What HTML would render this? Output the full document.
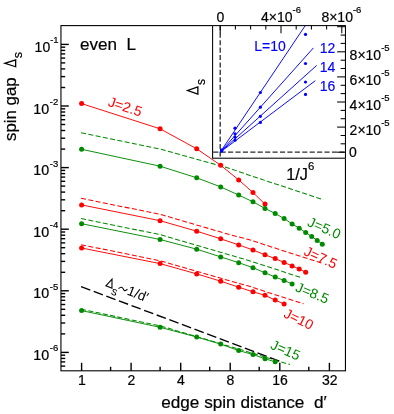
<!DOCTYPE html><html><head><meta charset="utf-8"><style>html,body{margin:0;padding:0;background:#fff}body{width:394px;height:414px;position:relative;overflow:hidden}</style></head><body><svg width="394" height="414" viewBox="0 0 394 414" style="will-change:transform;position:absolute;left:0;top:0;font-family:'Liberation Sans',sans-serif">
<rect width="394" height="414" fill="#fff"/>
<polyline fill="none" stroke="#008a00" stroke-width="1.05" stroke-dasharray="5.0,2.4" points="81.1,132.8 160.0,149.0 230.0,168.5 247.7,174.7 323.4,199.8"/>
<polyline fill="none" stroke="#ff0000" stroke-width="1.05" stroke-dasharray="5.0,2.4" points="81.1,198.3 160.0,214.3 230.0,234.7 247.7,239.3 321.7,263.0"/>
<polyline fill="none" stroke="#008a00" stroke-width="1.05" stroke-dasharray="5.0,2.4" points="81.1,218.6 160.0,234.6 230.0,255.0 247.7,260.2 302.3,277.9"/>
<polyline fill="none" stroke="#ff0000" stroke-width="1.05" stroke-dasharray="5.0,2.4" points="81.1,244.7 160.0,260.7 230.0,280.9 247.7,285.8 303.6,303.8"/>
<polyline fill="none" stroke="#008a00" stroke-width="1.05" stroke-dasharray="5.0,2.4" points="81.1,309.3 160.0,325.8 238.9,349.1 290.0,364.6"/>
<line x1="81.1" y1="286.6" x2="281" y2="361.7" stroke="#000" stroke-width="1.35" stroke-dasharray="9.8,3.66"/>
<polyline fill="none" stroke="#ff0000" stroke-width="0.95" points="81.6,103.6 160.1,128.8 196.7,148.8 220.7,165.3 238.7,179.9 253.0,192.6 265.0,204.1"/>
<circle cx="81.6" cy="103.6" r="2.5" fill="#ff0000"/>
<circle cx="160.1" cy="128.8" r="2.5" fill="#ff0000"/>
<circle cx="196.7" cy="148.8" r="2.5" fill="#ff0000"/>
<circle cx="220.7" cy="165.3" r="2.5" fill="#ff0000"/>
<circle cx="238.7" cy="179.9" r="2.5" fill="#ff0000"/>
<circle cx="253.0" cy="192.6" r="2.5" fill="#ff0000"/>
<circle cx="265.0" cy="204.1" r="2.5" fill="#ff0000"/>
<polyline fill="none" stroke="#008a00" stroke-width="0.95" points="81.6,149.3 160.1,166.2 196.7,177.8 220.7,186.9 238.7,195.1 253.0,201.8 265.0,208.4 275.2,213.5 284.1,218.5 292.1,223.9 299.2,228.2 305.7,232.5 311.7,236.5 317.2,240.4 322.3,244.2"/>
<circle cx="81.6" cy="149.3" r="2.5" fill="#008a00"/>
<circle cx="160.1" cy="166.2" r="2.5" fill="#008a00"/>
<circle cx="196.7" cy="177.8" r="2.5" fill="#008a00"/>
<circle cx="220.7" cy="186.9" r="2.5" fill="#008a00"/>
<circle cx="238.7" cy="195.1" r="2.5" fill="#008a00"/>
<circle cx="253.0" cy="201.8" r="2.5" fill="#008a00"/>
<circle cx="265.0" cy="208.4" r="2.5" fill="#008a00"/>
<circle cx="275.2" cy="213.5" r="2.5" fill="#008a00"/>
<circle cx="284.1" cy="218.5" r="2.5" fill="#008a00"/>
<circle cx="292.1" cy="223.9" r="2.5" fill="#008a00"/>
<circle cx="299.2" cy="228.2" r="2.5" fill="#008a00"/>
<circle cx="305.7" cy="232.5" r="2.5" fill="#008a00"/>
<circle cx="311.7" cy="236.5" r="2.5" fill="#008a00"/>
<circle cx="317.2" cy="240.4" r="2.5" fill="#008a00"/>
<circle cx="322.3" cy="244.2" r="2.5" fill="#008a00"/>
<polyline fill="none" stroke="#ff0000" stroke-width="0.95" points="81.6,204.9 160.1,220.7 196.7,231.2 220.7,238.8 238.7,244.9 253.0,250.0 265.0,254.8 275.2,258.6 284.1,262.4 292.1,265.9 299.2,269.0 305.7,272.3"/>
<circle cx="81.6" cy="204.9" r="2.5" fill="#ff0000"/>
<circle cx="160.1" cy="220.7" r="2.5" fill="#ff0000"/>
<circle cx="196.7" cy="231.2" r="2.5" fill="#ff0000"/>
<circle cx="220.7" cy="238.8" r="2.5" fill="#ff0000"/>
<circle cx="238.7" cy="244.9" r="2.5" fill="#ff0000"/>
<circle cx="253.0" cy="250.0" r="2.5" fill="#ff0000"/>
<circle cx="265.0" cy="254.8" r="2.5" fill="#ff0000"/>
<circle cx="275.2" cy="258.6" r="2.5" fill="#ff0000"/>
<circle cx="284.1" cy="262.4" r="2.5" fill="#ff0000"/>
<circle cx="292.1" cy="265.9" r="2.5" fill="#ff0000"/>
<circle cx="299.2" cy="269.0" r="2.5" fill="#ff0000"/>
<circle cx="305.7" cy="272.3" r="2.5" fill="#ff0000"/>
<polyline fill="none" stroke="#008a00" stroke-width="0.95" points="81.6,223.7 160.1,239.5 196.7,249.2 220.7,256.9 238.7,262.7 253.0,267.7 265.0,272.8 275.2,277.1 284.1,280.4 292.1,284.0"/>
<circle cx="81.6" cy="223.7" r="2.5" fill="#008a00"/>
<circle cx="160.1" cy="239.5" r="2.5" fill="#008a00"/>
<circle cx="196.7" cy="249.2" r="2.5" fill="#008a00"/>
<circle cx="220.7" cy="256.9" r="2.5" fill="#008a00"/>
<circle cx="238.7" cy="262.7" r="2.5" fill="#008a00"/>
<circle cx="253.0" cy="267.7" r="2.5" fill="#008a00"/>
<circle cx="265.0" cy="272.8" r="2.5" fill="#008a00"/>
<circle cx="275.2" cy="277.1" r="2.5" fill="#008a00"/>
<circle cx="284.1" cy="280.4" r="2.5" fill="#008a00"/>
<circle cx="292.1" cy="284.0" r="2.5" fill="#008a00"/>
<polyline fill="none" stroke="#ff0000" stroke-width="0.95" points="81.6,248.0 160.1,263.6 196.7,273.9 220.7,281.2 238.7,287.2 253.0,291.8 265.0,295.3 275.2,300.1 284.1,304.0"/>
<circle cx="81.6" cy="248.0" r="2.5" fill="#ff0000"/>
<circle cx="160.1" cy="263.6" r="2.5" fill="#ff0000"/>
<circle cx="196.7" cy="273.9" r="2.5" fill="#ff0000"/>
<circle cx="220.7" cy="281.2" r="2.5" fill="#ff0000"/>
<circle cx="238.7" cy="287.2" r="2.5" fill="#ff0000"/>
<circle cx="253.0" cy="291.8" r="2.5" fill="#ff0000"/>
<circle cx="265.0" cy="295.3" r="2.5" fill="#ff0000"/>
<circle cx="275.2" cy="300.1" r="2.5" fill="#ff0000"/>
<circle cx="284.1" cy="304.0" r="2.5" fill="#ff0000"/>
<polyline fill="none" stroke="#008a00" stroke-width="0.95" points="81.6,310.6 160.1,327.3 196.7,337.0 220.7,344.1 238.7,350.6 253.0,354.5 265.0,358.8 275.2,361.8"/>
<circle cx="81.6" cy="310.6" r="2.5" fill="#008a00"/>
<circle cx="160.1" cy="327.3" r="2.5" fill="#008a00"/>
<circle cx="196.7" cy="337.0" r="2.5" fill="#008a00"/>
<circle cx="220.7" cy="344.1" r="2.5" fill="#008a00"/>
<circle cx="238.7" cy="350.6" r="2.5" fill="#008a00"/>
<circle cx="253.0" cy="354.5" r="2.5" fill="#008a00"/>
<circle cx="265.0" cy="358.8" r="2.5" fill="#008a00"/>
<circle cx="275.2" cy="361.8" r="2.5" fill="#008a00"/>
<g stroke="#000" stroke-width="1.40" fill="none">
<rect x="60.95" y="25.60" width="284.50" height="345.20" stroke-width="1.1"/>
<line x1="61.0" y1="44.4" x2="68.8" y2="44.4"/>
<line x1="61.0" y1="106.0" x2="68.8" y2="106.0"/>
<line x1="61.0" y1="167.6" x2="68.8" y2="167.6"/>
<line x1="61.0" y1="229.2" x2="68.8" y2="229.2"/>
<line x1="61.0" y1="290.8" x2="68.8" y2="290.8"/>
<line x1="61.0" y1="352.4" x2="68.8" y2="352.4"/>
<line x1="61.0" y1="87.5" x2="65.2" y2="87.5"/>
<line x1="61.0" y1="76.6" x2="65.2" y2="76.6"/>
<line x1="61.0" y1="68.9" x2="65.2" y2="68.9"/>
<line x1="61.0" y1="62.9" x2="65.2" y2="62.9"/>
<line x1="61.0" y1="58.1" x2="65.2" y2="58.1"/>
<line x1="61.0" y1="53.9" x2="65.2" y2="53.9"/>
<line x1="61.0" y1="50.4" x2="65.2" y2="50.4"/>
<line x1="61.0" y1="47.2" x2="65.2" y2="47.2"/>
<line x1="61.0" y1="149.1" x2="65.2" y2="149.1"/>
<line x1="61.0" y1="138.2" x2="65.2" y2="138.2"/>
<line x1="61.0" y1="130.5" x2="65.2" y2="130.5"/>
<line x1="61.0" y1="124.5" x2="65.2" y2="124.5"/>
<line x1="61.0" y1="119.7" x2="65.2" y2="119.7"/>
<line x1="61.0" y1="115.5" x2="65.2" y2="115.5"/>
<line x1="61.0" y1="112.0" x2="65.2" y2="112.0"/>
<line x1="61.0" y1="108.8" x2="65.2" y2="108.8"/>
<line x1="61.0" y1="210.7" x2="65.2" y2="210.7"/>
<line x1="61.0" y1="199.8" x2="65.2" y2="199.8"/>
<line x1="61.0" y1="192.1" x2="65.2" y2="192.1"/>
<line x1="61.0" y1="186.1" x2="65.2" y2="186.1"/>
<line x1="61.0" y1="181.3" x2="65.2" y2="181.3"/>
<line x1="61.0" y1="177.1" x2="65.2" y2="177.1"/>
<line x1="61.0" y1="173.6" x2="65.2" y2="173.6"/>
<line x1="61.0" y1="170.4" x2="65.2" y2="170.4"/>
<line x1="61.0" y1="272.3" x2="65.2" y2="272.3"/>
<line x1="61.0" y1="261.4" x2="65.2" y2="261.4"/>
<line x1="61.0" y1="253.7" x2="65.2" y2="253.7"/>
<line x1="61.0" y1="247.7" x2="65.2" y2="247.7"/>
<line x1="61.0" y1="242.9" x2="65.2" y2="242.9"/>
<line x1="61.0" y1="238.7" x2="65.2" y2="238.7"/>
<line x1="61.0" y1="235.2" x2="65.2" y2="235.2"/>
<line x1="61.0" y1="232.0" x2="65.2" y2="232.0"/>
<line x1="61.0" y1="333.9" x2="65.2" y2="333.9"/>
<line x1="61.0" y1="323.0" x2="65.2" y2="323.0"/>
<line x1="61.0" y1="315.3" x2="65.2" y2="315.3"/>
<line x1="61.0" y1="309.3" x2="65.2" y2="309.3"/>
<line x1="61.0" y1="304.5" x2="65.2" y2="304.5"/>
<line x1="61.0" y1="300.3" x2="65.2" y2="300.3"/>
<line x1="61.0" y1="296.8" x2="65.2" y2="296.8"/>
<line x1="61.0" y1="293.6" x2="65.2" y2="293.6"/>
<line x1="61.0" y1="366.1" x2="65.2" y2="366.1"/>
<line x1="61.0" y1="361.9" x2="65.2" y2="361.9"/>
<line x1="61.0" y1="358.4" x2="65.2" y2="358.4"/>
<line x1="61.0" y1="355.2" x2="65.2" y2="355.2"/>
<line x1="81.6" y1="370.8" x2="81.6" y2="362.8"/>
<line x1="131.1" y1="370.8" x2="131.1" y2="362.8"/>
<line x1="180.7" y1="370.8" x2="180.7" y2="362.8"/>
<line x1="230.2" y1="370.8" x2="230.2" y2="362.8"/>
<line x1="279.8" y1="370.8" x2="279.8" y2="362.8"/>
<line x1="329.4" y1="370.8" x2="329.4" y2="362.8"/>
<line x1="110.6" y1="370.8" x2="110.6" y2="366.8"/>
<line x1="160.1" y1="370.8" x2="160.1" y2="366.8"/>
<line x1="209.7" y1="370.8" x2="209.7" y2="366.8"/>
<line x1="259.2" y1="370.8" x2="259.2" y2="366.8"/>
<line x1="308.8" y1="370.8" x2="308.8" y2="366.8"/>
</g>
<rect x="212.10" y="24.40" width="134.65" height="134.30" fill="#fff"/>
<line x1="220.20" y1="25.30" x2="220.20" y2="158.20" stroke="#2a2a2a" stroke-width="1.3" stroke-dasharray="5.1,2.32"/>
<line x1="213.20" y1="152.20" x2="345.45" y2="152.20" stroke="#2a2a2a" stroke-width="1.3" stroke-dasharray="5.1,2.32"/>
<clipPath id="ic"><rect x="212.6" y="25.6" width="132.8" height="132.6"/></clipPath>
<line x1="220.2" y1="152.2" x2="305.4" y2="25.4" stroke="#0000ff" stroke-width="0.95" clip-path="url(#ic)"/>
<line x1="220.2" y1="152.2" x2="313.4" y2="47.9" stroke="#0000ff" stroke-width="0.95" clip-path="url(#ic)"/>
<line x1="220.2" y1="152.2" x2="316.7" y2="65.4" stroke="#0000ff" stroke-width="0.95" clip-path="url(#ic)"/>
<line x1="220.2" y1="152.2" x2="315.3" y2="80.7" stroke="#0000ff" stroke-width="0.95" clip-path="url(#ic)"/>
<circle cx="221.6" cy="150.0" r="1.6" fill="#0000ff"/>
<circle cx="221.6" cy="150.3" r="1.6" fill="#0000ff"/>
<circle cx="221.6" cy="150.6" r="1.6" fill="#0000ff"/>
<circle cx="221.6" cy="150.9" r="1.6" fill="#0000ff"/>
<circle cx="235.0" cy="128.2" r="1.6" fill="#0000ff"/>
<circle cx="235.0" cy="133.8" r="1.6" fill="#0000ff"/>
<circle cx="235.0" cy="137.1" r="1.6" fill="#0000ff"/>
<circle cx="235.0" cy="140.2" r="1.6" fill="#0000ff"/>
<circle cx="260.4" cy="92.5" r="1.6" fill="#0000ff"/>
<circle cx="260.4" cy="107.2" r="1.6" fill="#0000ff"/>
<circle cx="260.4" cy="116.3" r="1.6" fill="#0000ff"/>
<circle cx="260.4" cy="122.4" r="1.6" fill="#0000ff"/>
<circle cx="305.5" cy="34.4" r="1.6" fill="#0000ff"/>
<circle cx="305.5" cy="63.5" r="1.6" fill="#0000ff"/>
<circle cx="305.5" cy="82.0" r="1.6" fill="#0000ff"/>
<circle cx="305.5" cy="94.4" r="1.6" fill="#0000ff"/>
<g stroke="#000" stroke-width="1.05" fill="none">
<rect x="212.60" y="25.60" width="132.85" height="132.60"/>
<line x1="220.2" y1="25.6" x2="220.2" y2="33.2"/>
<line x1="235.4" y1="25.6" x2="235.4" y2="29.6"/>
<line x1="250.6" y1="25.6" x2="250.6" y2="29.6"/>
<line x1="265.8" y1="25.6" x2="265.8" y2="29.6"/>
<line x1="281.0" y1="25.6" x2="281.0" y2="33.2"/>
<line x1="296.2" y1="25.6" x2="296.2" y2="29.6"/>
<line x1="311.4" y1="25.6" x2="311.4" y2="29.6"/>
<line x1="326.6" y1="25.6" x2="326.6" y2="29.6"/>
<line x1="341.8" y1="25.6" x2="341.8" y2="33.2"/>
<line x1="345.4" y1="152.2" x2="337.1" y2="152.2"/>
<line x1="345.4" y1="143.8" x2="340.6" y2="143.8"/>
<line x1="345.4" y1="135.5" x2="340.6" y2="135.5"/>
<line x1="345.4" y1="127.1" x2="337.1" y2="127.1"/>
<line x1="345.4" y1="118.7" x2="340.6" y2="118.7"/>
<line x1="345.4" y1="110.4" x2="340.6" y2="110.4"/>
<line x1="345.4" y1="102.0" x2="337.1" y2="102.0"/>
<line x1="345.4" y1="93.6" x2="340.6" y2="93.6"/>
<line x1="345.4" y1="85.3" x2="340.6" y2="85.3"/>
<line x1="345.4" y1="76.9" x2="337.1" y2="76.9"/>
<line x1="345.4" y1="68.5" x2="340.6" y2="68.5"/>
<line x1="345.4" y1="60.2" x2="340.6" y2="60.2"/>
<line x1="345.4" y1="51.8" x2="337.1" y2="51.8"/>
<line x1="345.4" y1="43.4" x2="340.6" y2="43.4"/>
<line x1="345.4" y1="35.1" x2="340.6" y2="35.1"/>
<line x1="345.4" y1="26.7" x2="337.1" y2="26.7"/>
</g>
<text x="34.6" y="51.9" font-size="14" fill="#000" stroke="#000" stroke-width="0.2" text-anchor="start" >10<tspan font-size="9.5" dy="-8.5">-1</tspan></text>
<text x="33.3" y="113.5" font-size="14.3" fill="#000" stroke="#000" stroke-width="0.2" text-anchor="start" >10<tspan font-size="9.5" dy="-8.5" dx="0.6">-2</tspan></text>
<text x="33.3" y="175.1" font-size="14.3" fill="#000" stroke="#000" stroke-width="0.2" text-anchor="start" >10<tspan font-size="9.5" dy="-8.5" dx="0.6">-3</tspan></text>
<text x="33.3" y="236.7" font-size="14.3" fill="#000" stroke="#000" stroke-width="0.2" text-anchor="start" >10<tspan font-size="9.5" dy="-8.5" dx="0.6">-4</tspan></text>
<text x="33.3" y="298.3" font-size="14.3" fill="#000" stroke="#000" stroke-width="0.2" text-anchor="start" >10<tspan font-size="9.5" dy="-8.5" dx="0.6">-5</tspan></text>
<text x="33.3" y="359.9" font-size="14.3" fill="#000" stroke="#000" stroke-width="0.2" text-anchor="start" >10<tspan font-size="9.5" dy="-8.5" dx="0.6">-6</tspan></text>
<text x="81.9" y="385.4" font-size="14" fill="#000" stroke="#000" stroke-width="0.2" text-anchor="middle" >1</text>
<text x="131.4" y="385.4" font-size="14" fill="#000" stroke="#000" stroke-width="0.2" text-anchor="middle" >2</text>
<text x="181.0" y="385.4" font-size="14" fill="#000" stroke="#000" stroke-width="0.2" text-anchor="middle" >4</text>
<text x="230.5" y="385.4" font-size="14" fill="#000" stroke="#000" stroke-width="0.2" text-anchor="middle" >8</text>
<text x="280.1" y="385.4" font-size="14" fill="#000" stroke="#000" stroke-width="0.2" text-anchor="middle" >16</text>
<text x="329.7" y="385.4" font-size="14" fill="#000" stroke="#000" stroke-width="0.2" text-anchor="middle" >32</text>
<text x="161.2" y="408.3" font-size="16.5" fill="#000" stroke="#000" stroke-width="0.2" text-anchor="start" textLength="165.5" lengthAdjust="spacingAndGlyphs" >edge spin distance&#160;&#160;d&#8242;</text>
<text x="16.3" y="140.9" font-size="16.5" fill="#000" stroke="#000" stroke-width="0.2" text-anchor="start" transform="rotate(-90 16.3 140.9)" textLength="63.5" lengthAdjust="spacingAndGlyphs" >spin gap</text>
<g transform="translate(16.3 67.6) rotate(-90)"><path d="M0.85 -0.65 L4.30 -11.40 L7.75 -0.65 Z" fill="none" stroke="#000" stroke-width="1.3" stroke-linejoin="miter"/></g>
<text x="21.6" y="58.3" font-size="12.5" fill="#000" stroke="#000" stroke-width="0.2" text-anchor="start" transform="rotate(-90 21.6 58.3)" >s</text>
<text x="80.0" y="50.0" font-size="16" fill="#000" stroke="#000" stroke-width="0.2" text-anchor="start" textLength="56.0" lengthAdjust="spacingAndGlyphs" >even&#160;&#160;L</text>
<text x="220.4" y="21.6" font-size="14" fill="#000" stroke="#000" stroke-width="0.2" text-anchor="middle" >0</text>
<text x="261.0" y="21.6" font-size="14" fill="#000" stroke="#000" stroke-width="0.2" text-anchor="start" >4&#215;10<tspan font-size="9.5" dy="-8.5">-6</tspan></text>
<text x="321.4" y="21.6" font-size="14" fill="#000" stroke="#000" stroke-width="0.2" text-anchor="start" >8&#215;10<tspan font-size="9.5" dy="-8.5">-6</tspan></text>
<text x="349.6" y="59.6" font-size="14" fill="#000" stroke="#000" stroke-width="0.2" text-anchor="start" >8&#215;10<tspan font-size="9.5" dy="-8.5">-5</tspan></text>
<text x="349.6" y="84.7" font-size="14" fill="#000" stroke="#000" stroke-width="0.2" text-anchor="start" >6&#215;10<tspan font-size="9.5" dy="-8.5">-5</tspan></text>
<text x="349.6" y="109.8" font-size="14" fill="#000" stroke="#000" stroke-width="0.2" text-anchor="start" >4&#215;10<tspan font-size="9.5" dy="-8.5">-5</tspan></text>
<text x="349.6" y="134.9" font-size="14" fill="#000" stroke="#000" stroke-width="0.2" text-anchor="start" >2&#215;10<tspan font-size="9.5" dy="-8.5">-5</tspan></text>
<text x="349.0" y="157.2" font-size="14" fill="#000" stroke="#000" stroke-width="0.2" text-anchor="start" >0</text>
<text x="286.2" y="180.0" font-size="16.3" fill="#000" stroke="#000" stroke-width="0.2" text-anchor="start" >1/J<tspan font-size="11.4" dy="-10.3">6</tspan></text>
<g transform="translate(198.5 94.9) rotate(-90)"><path d="M0.85 -0.65 L4.40 -10.80 L7.95 -0.65 Z" fill="none" stroke="#000" stroke-width="1.3" stroke-linejoin="miter"/></g>
<text x="205.0" y="84.9" font-size="12" fill="#000" stroke="#000" stroke-width="0.2" text-anchor="start" transform="rotate(-90 205.0 84.9)" >s</text>
<text x="254.2" y="51.2" font-size="14" fill="#0000ff" stroke="#0000ff" stroke-width="0.15" text-anchor="start" >L=10</text>
<text x="319.7" y="53.3" font-size="14" fill="#0000ff" stroke="#0000ff" stroke-width="0.15" text-anchor="start" >12</text>
<text x="319.7" y="72.2" font-size="14" fill="#0000ff" stroke="#0000ff" stroke-width="0.15" text-anchor="start" >14</text>
<text x="319.7" y="91.0" font-size="14" fill="#0000ff" stroke="#0000ff" stroke-width="0.15" text-anchor="start" >16</text>
<text x="107.2" y="105.8" font-size="14" fill="#ff0000" stroke="#ff0000" stroke-width="0.0" text-anchor="start" transform="rotate(18.4 107.2 105.8)" >J=2.5</text>
<text x="306.5" y="225.5" font-size="14" fill="#008a00" stroke="#008a00" stroke-width="0.0" text-anchor="start" transform="rotate(23.5 306.5 225.5)" >J=5.0</text>
<text x="303.0" y="254.5" font-size="14" fill="#ff0000" stroke="#ff0000" stroke-width="0.0" text-anchor="start" transform="rotate(25 303.0 254.5)" >J=7.5</text>
<text x="294.5" y="290.8" font-size="14" fill="#008a00" stroke="#008a00" stroke-width="0.0" text-anchor="start" transform="rotate(22.5 294.5 290.8)" >J=8.5</text>
<text x="282.8" y="316.7" font-size="14" fill="#ff0000" stroke="#ff0000" stroke-width="0.0" text-anchor="start" transform="rotate(26 282.8 316.7)" >J=10</text>
<text x="269.5" y="348.2" font-size="14" fill="#008a00" stroke="#008a00" stroke-width="0.0" text-anchor="start" transform="rotate(24 269.5 348.2)" >J=15</text>
<g transform="translate(105.0 286.0) rotate(21.5)">
<g transform="translate(0.0 0.0) rotate(0)"><path d="M0.75 -0.55 L4.00 -9.00 L7.25 -0.55 Z" fill="none" stroke="#000" stroke-width="1.1" stroke-linejoin="miter"/></g>
<text x="8.0" y="5.4" font-size="11.5">s</text>
<path d="M13.6 -2.4 C14.8 -5.6 16.8 -5.4 18.0 -4.0 C19.2 -2.6 21.0 -2.2 22.0 -5.4" fill="none" stroke="#000" stroke-width="1.1"/>
<text x="22.8" y="0" font-size="13.6">1/d&#8242;</text>
</g>
</svg></body></html>
